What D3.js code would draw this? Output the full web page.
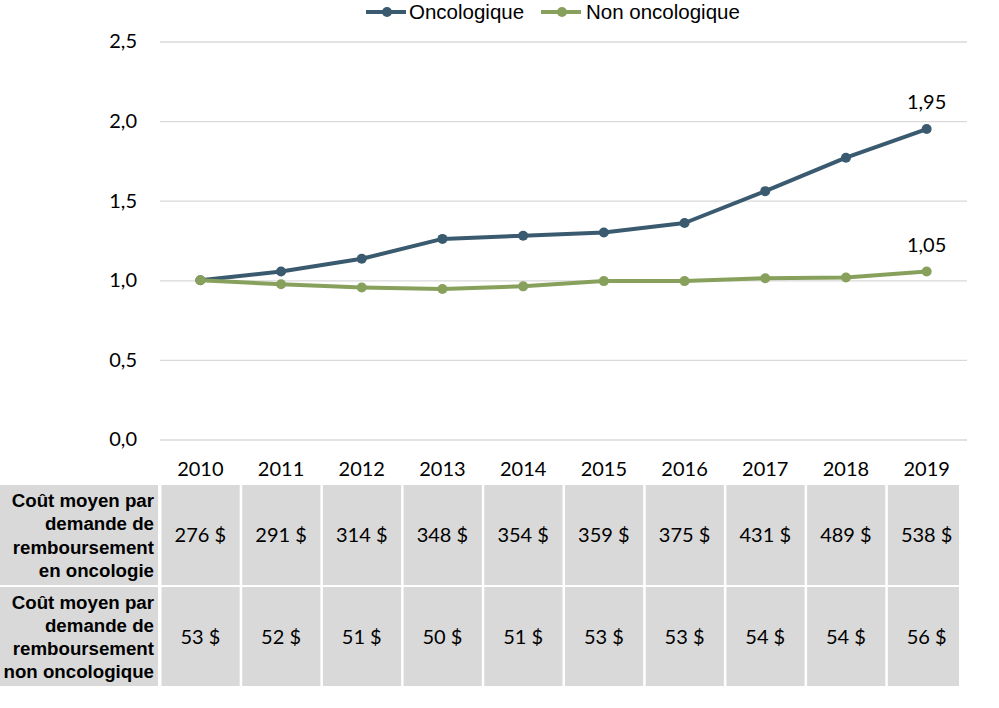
<!DOCTYPE html>
<html><head><meta charset="utf-8">
<script src="https://cdn.jsdelivr.net/npm/d3@7"></script>
<style>body{margin:0;background:#fff}</style>
</head><body>
<svg id="c" width="999" height="708"></svg>
<script>
const years = ["2010","2011","2012","2013","2014","2015","2016","2017","2018","2019"];
const onco = [1.00, 1.055, 1.135, 1.26, 1.28, 1.30, 1.36, 1.56, 1.77, 1.95];
const nonOnco = [1.00, 0.975, 0.955, 0.945, 0.962, 0.995, 0.995, 1.013, 1.018, 1.055];
const costOnco = ["276 $","291 $","314 $","348 $","354 $","359 $","375 $","431 $","489 $","538 $"];
const costNon = ["53 $","52 $","51 $","50 $","51 $","53 $","53 $","54 $","54 $","56 $"];
const yTicks = [0, 0.5, 1.0, 1.5, 2.0, 2.5];
const rowLabels = [["Coût moyen par","demande de","remboursement","en oncologie"],["Coût moyen par","demande de","remboursement","non oncologique"]];
const seriesNames = ["Oncologique","Non oncologique"];
const colors = ["#3a5a6f","#87a05c"];

const svg = d3.select("#c");
const num = "Lato, 'Open Sans', sans-serif";
const arial = "'Liberation Sans', Arial, sans-serif";
const x = d3.scaleBand().domain(years).range([160, 967]);
const cx = d => x(d) + x.bandwidth()/2;
const y = d3.scaleLinear().domain([0, 2.5]).range([439.5, 41.5]);
const fmt = v => d3.format(".1f")(v).replace(".", ",");

// grid
const yAxis = d3.axisLeft(y).tickValues(yTicks).tickSize(-807).tickFormat(fmt).tickPadding(23);
const ga = svg.append("g").attr("transform","translate(160,0)").call(yAxis);
ga.select(".domain").remove();
ga.selectAll(".tick line").attr("stroke","#d9d9d9").attr("stroke-width",1.3);
ga.selectAll(".tick text").attr("font-family",num).attr("font-size",20).attr("fill","#000");

// x axis labels
const xa = svg.append("g").attr("transform","translate(0,439.5)").call(d3.axisBottom(x).tickSize(0).tickPadding(22));
xa.select(".domain").remove();
xa.selectAll(".tick text").attr("font-family",num).attr("font-size",20).attr("fill","#000");

// lines
[onco, nonOnco].forEach((vals, i) => {
  const line = d3.line().x((d,j) => cx(years[j])).y(d => y(d));
  svg.append("path").datum(vals).attr("d", line).attr("fill","none")
    .attr("stroke", colors[i]).attr("stroke-width", 4).attr("stroke-linejoin","round");
  svg.selectAll(null).data(vals).enter().append("circle")
    .attr("cx", (d,j) => cx(years[j])).attr("cy", d => y(d)).attr("r", 5).attr("fill", colors[i]);
  const last = vals.length - 1;
  svg.append("text").attr("x", cx(years[last])).attr("y", y(vals[last]) - 20)
    .attr("text-anchor","middle").attr("font-family",num).attr("font-size",20)
    .text(d3.format(".2f")(vals[last]).replace(".", ","));
});

// legend
const leg = [{x0:366, tx:409},{x0:541, tx:586}];
leg.forEach((l, i) => {
  svg.append("line").attr("x1", l.x0).attr("x2", l.x0 + 40).attr("y1", 12).attr("y2", 12)
    .attr("stroke", colors[i]).attr("stroke-width", 4);
  svg.append("circle").attr("cx", l.x0 + 21).attr("cy", 12).attr("r", 5).attr("fill", colors[i]);
  svg.append("text").attr("x", l.tx).attr("y", 19).attr("font-family", arial).attr("font-size", 20.5)
    .attr("fill","#000").text(seriesNames[i]);
});

// table
const rows = [{y0:485, y1:585, vals:costOnco},{y0:587, y1:686, vals:costNon}];
rows.forEach((r, ri) => {
  svg.append("rect").attr("x",0).attr("y",r.y0).attr("width",158).attr("height",r.y1-r.y0).attr("fill","#d9d9d9");
  const lines = rowLabels[ri];
  const mid = (r.y0 + r.y1)/2;
  lines.forEach((t, k) => {
    svg.append("text").attr("x",154).attr("y", mid + (k - 1.5)*23.3 + 7)
      .attr("text-anchor","end").attr("font-family",arial).attr("font-weight","bold")
      .attr("font-size",18.7).attr("fill","#000").text(t);
  });
  svg.selectAll(null).data(years).enter().append("rect")
    .attr("x", d => x(d) + 1.5)
    .attr("y", r.y0)
    .attr("width", d => Math.min(x(d) + x.bandwidth() - 1, 959) - (x(d) + 1.5))
    .attr("height", r.y1 - r.y0).attr("fill","#d9d9d9");
  svg.selectAll(null).data(years).enter().append("text")
    .attr("x", d => cx(d)).attr("y", mid + 7).attr("text-anchor","middle")
    .attr("font-family",num).attr("font-size",20).attr("fill","#000")
    .text((d,j) => r.vals[j]);
});
</script>
</body></html>
